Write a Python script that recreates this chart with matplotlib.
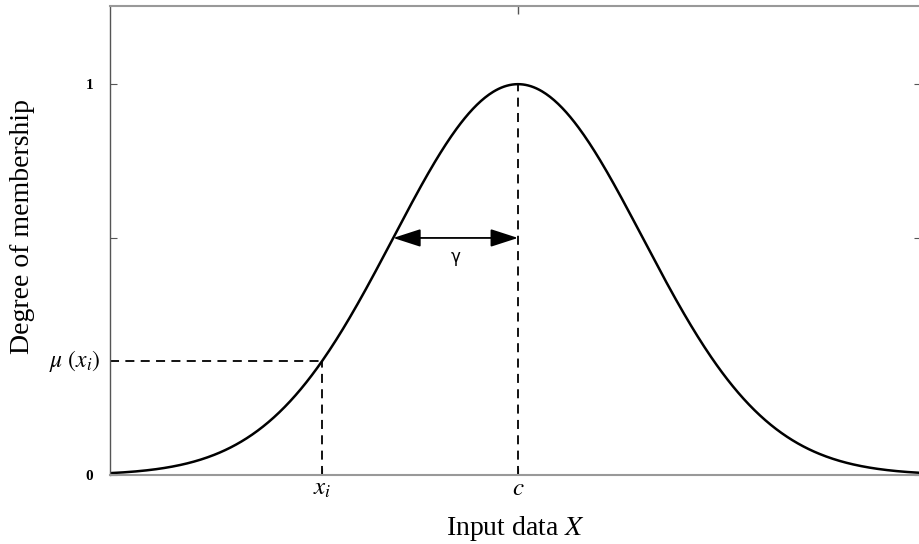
import numpy as np
import matplotlib
matplotlib.use("Agg")
import matplotlib.pyplot as plt
from matplotlib import transforms

plt.rcParams['font.family'] = ['Liberation Serif', 'DejaVu Serif']
plt.rcParams['mathtext.fontset'] = 'stix'

# Gaussian membership function parameters
c = 0.0          # centre
gamma = 1.0      # width
x_i = -1.57      # sample input
x_range = [-3.27, 3.23]
y_range = [0, 1.2]

x = np.linspace(x_range[0], x_range[1], 600)
mu = np.exp(-0.5 * ((x - c) / gamma) ** 2)
mu_xi = np.exp(-0.5 * ((x_i - c) / gamma) ** 2)
mu_gamma = np.exp(-0.5)

fig = plt.figure(figsize=(9.2, 5.44), dpi=100)
ax = fig.add_axes([110 / 920, 69 / 544, 811 / 920, 469 / 544])

ax.plot(x, mu, color='black', linewidth=1.8)

# dashed guide lines
dash = dict(color='black', linewidth=1.3, linestyle=(0, (5, 3.5)))
ax.plot([c, c], [0, 1], **dash)
ax.plot([x_i, x_i], [0, mu_xi], **dash)
ax.plot([x_range[0], x_i], [mu_xi, mu_xi], **dash)

# gamma arrow
ax.annotate('', xy=(c - gamma, mu_gamma), xytext=(c, mu_gamma),
            arrowprops=dict(arrowstyle='<|-|>,head_length=1.7,head_width=0.55',
                            color='black', linewidth=1.3, shrinkA=0, shrinkB=0))
ax.text(c - gamma / 2, mu_gamma - 0.025, 'γ', family='DejaVu Sans', fontsize=12,
        ha='center', va='top')

ax.set_xlim(x_range)
ax.set_ylim(y_range)

ax.set_xticks([x_i, c])
ax.set_xticklabels([r'$x_i$', r'$c$'], fontsize=18)
ax.set_yticks([0, mu_gamma, 1])
ax.set_yticklabels(['0', '', '1'], fontsize=11, fontweight='bold')
ax.tick_params(direction='in', length=5, width=0.8, color='#555555',
               right=True)
ax.tick_params(axis='y', pad=12)
ax.tick_params(axis='x', pad=2)

# top tick only at the centre
top = ax.secondary_xaxis('top')
top.set_xticks([c])
top.set_xticklabels([''])
top.tick_params(direction='in', length=6, width=1.0, color='#555555')
top.spines['top'].set_visible(False)

trans = transforms.blended_transform_factory(ax.transAxes, ax.transData)
ax.text(-0.011, mu_xi, r'$\mu\ (x_i)$', transform=trans, ha='right', va='center',
        fontsize=17)

for side in ['left', 'right', 'top', 'bottom']:
    ax.spines[side].set_color('#999999')
    ax.spines[side].set_linewidth(1.5)
ax.spines['left'].set_color('#555555')
ax.spines['left'].set_linewidth(1.0)

ax.set_xlabel(r'Input data $X$', fontsize=20, labelpad=10)
ax.set_ylabel('Degree of membership', fontsize=20)
ax.yaxis.set_label_coords(-0.092, 0.53)

fig.savefig('out.png', dpi=100)
